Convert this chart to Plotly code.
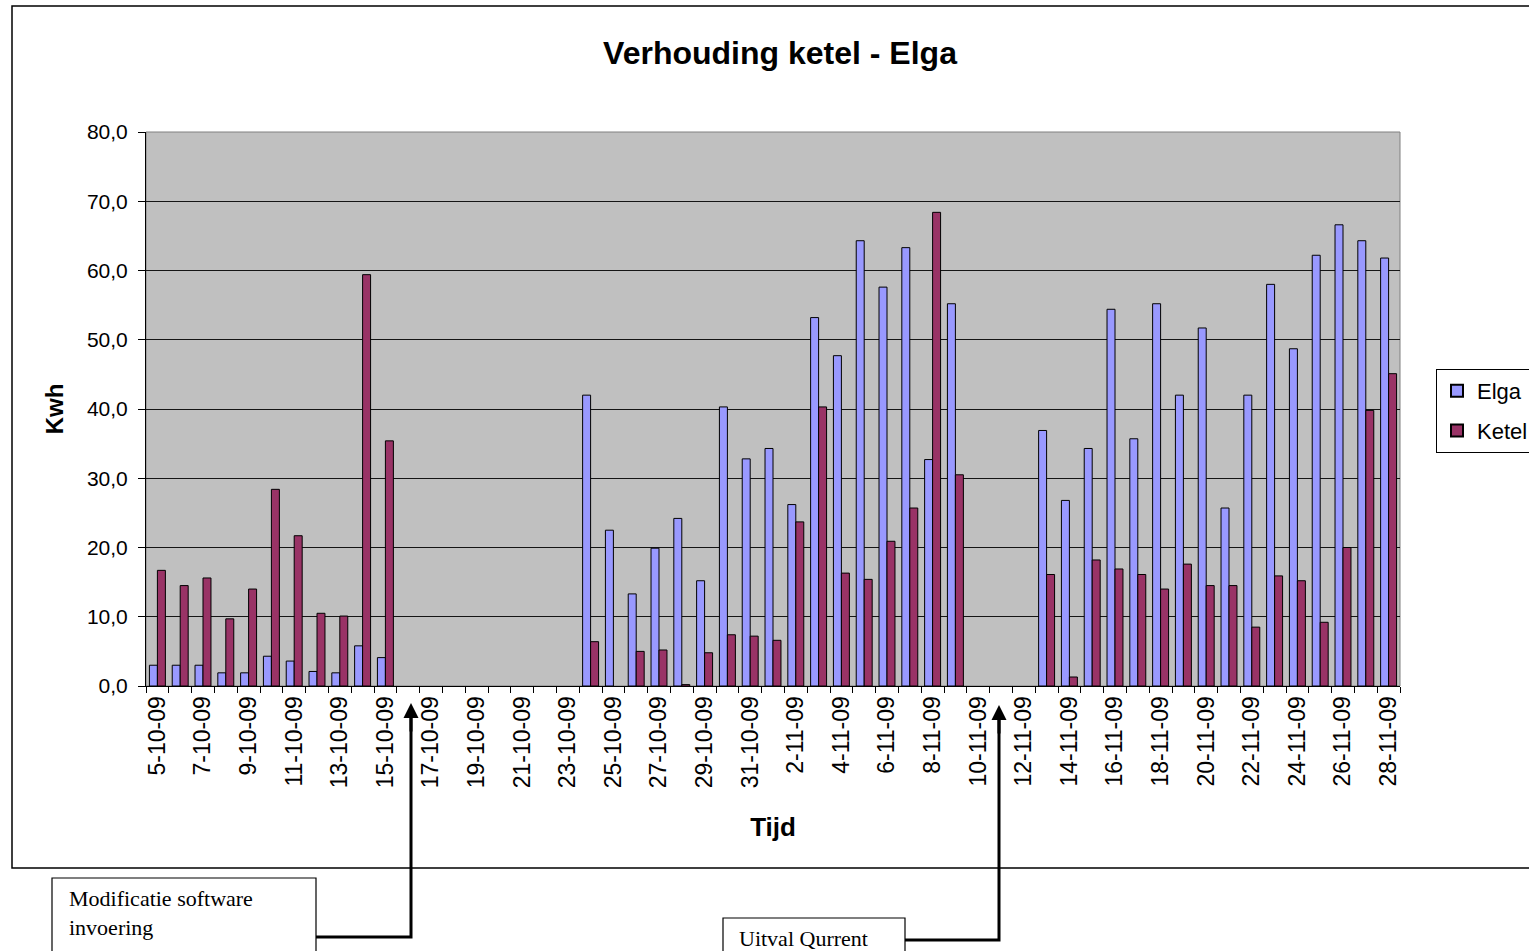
import plotly.graph_objects as go
import datetime as dt

# ---- data ----
start = dt.date(2009, 10, 5)
dates = [start + dt.timedelta(days=i) for i in range(55)]
categories = [f"{d.day}-{d.month}-{d.strftime('%y')}" for d in dates]

elga = [3.0, 3.0, 3.0, 1.9, 1.9, 4.3, 3.6, 2.1, 1.9, 5.8, 4.1,
        None, None, None, None, None, None, None, None,
        42.0, 22.5, 13.3, 19.9, 24.2, 15.2, 40.3, 32.8, 34.3, 26.2,
        53.2, 47.7, 64.3, 57.6, 63.3, 32.7, 55.2,
        None, None, None,
        36.9, 26.8, 34.3, 54.4, 35.7, 55.2, 42.0, 51.7, 25.7, 42.0,
        58.0, 48.7, 62.2, 66.6, 64.3, 61.8]
ketel = [16.7, 14.5, 15.6, 9.7, 14.0, 28.4, 21.7, 10.5, 10.1, 59.4, 35.4,
         None, None, None, None, None, None, None, None,
         6.4, None, 5.0, 5.2, 0.2, 4.8, 7.4, 7.2, 6.6, 23.7,
         40.3, 16.3, 15.4, 20.9, 25.7, 68.4, 30.5,
         None, None, None,
         16.1, 1.3, 18.2, 16.9, 16.1, 14.0, 17.6, 14.5, 14.5, 8.5,
         15.9, 15.2, 9.2, 20.0, 39.8, 45.1]
# every other date is labelled
tick_text = [c if i % 2 == 0 else "" for i, c in enumerate(categories)]
y_ticks = [0, 10, 20, 30, 40, 50, 60, 70, 80]

# ---- geometry helpers (pixel -> paper) ----
W, H = 1529, 951
L, R, T, B = 146, 1400, 132, 686
def px(x):
    return (x - L) / (R - L)
def py(y):
    return (B - y) / (B - T)

SANS = "Arial, Liberation Sans, sans-serif"
SERIF = "Liberation Serif, Times New Roman, serif"

fig = go.Figure()
fig.add_trace(go.Bar(x=categories, y=elga, name="Elga", legendgroup="a",
                     marker=dict(color="#9999FF", line=dict(color="#000000", width=1))))
fig.add_trace(go.Bar(x=categories, y=ketel, name="Ketel", legendgroup="b",
                     marker=dict(color="#993366", line=dict(color="#000000", width=1))))

fig.update_layout(
    width=W, height=H,
    margin=dict(l=L, r=W - R, t=T, b=H - B, autoexpand=False),
    paper_bgcolor="white",
    plot_bgcolor="#C0C0C0",
    separators=",.",
    barmode="group",
    bargap=0.3,
    bargroupgap=0.0,
    font=dict(family=SANS, color="#000000", size=20),
    title=dict(text="<b>Verhouding ketel - Elga</b>", x=px(780), xanchor="center",
               y=1 - 53 / H, yanchor="middle", xref="paper",
               font=dict(size=32, family=SANS)),
    legend=dict(x=px(1436), y=py(369), xanchor="left", yanchor="top",
                bordercolor="#000000", borderwidth=1, bgcolor="white",
                font=dict(size=22), tracegroupgap=8, itemsizing="constant",
                itemwidth=30),
    showlegend=True,
)

fig.update_xaxes(
    type="category",
    categoryorder="array", categoryarray=categories,
    tickmode="array", tickvals=categories, ticktext=tick_text,
    tickangle=-90,
    ticks="outside", ticklen=6, tickcolor="#000000", tickson="boundaries",
    showline=True, linecolor="#000000", linewidth=1,
    showgrid=False, zeroline=False,
    tickfont=dict(size=23),
    title=dict(text="<b>Tijd</b>", font=dict(size=26), standoff=30),
    range=[-0.5, len(categories) - 0.5],
)
fig.update_yaxes(
    range=[0, 80], tickmode="array", tickvals=y_ticks, tickformat=".1f",
    ticks="outside", ticklen=7, tickcolor="#000000",
    ticklabelstandoff=6,
    showline=True, linecolor="#000000", linewidth=1,
    showgrid=True, gridcolor="#151515", gridwidth=1.3,
    zeroline=False,
    tickfont=dict(size=21),
    title=dict(text="<b>Kwh</b>", font=dict(size=24), standoff=16),
)

shapes = []
# plot area border (gray top/right)
shapes.append(dict(type="rect", xref="paper", yref="paper", x0=0, x1=1, y0=0, y1=1,
                   line=dict(color="#808080", width=1), layer="below"))
# outer chart border
shapes.append(dict(type="rect", xref="paper", yref="paper",
                   x0=px(12), x1=px(1545), y0=py(868), y1=py(6),
                   line=dict(color="#000000", width=1.5)))
# callout boxes
shapes.append(dict(type="rect", xref="paper", yref="paper",
                   x0=px(52), x1=px(316), y0=py(965), y1=py(878),
                   line=dict(color="#000000", width=1.2), fillcolor="white"))
shapes.append(dict(type="rect", xref="paper", yref="paper",
                   x0=px(723), x1=px(905), y0=py(965), y1=py(918),
                   line=dict(color="#000000", width=1.2), fillcolor="white"))
# connector lines
shapes.append(dict(type="path", xref="paper", yref="paper",
                   path=f"M {px(316)} {py(937)} L {px(411)} {py(937)} L {px(411)} {py(712)}",
                   line=dict(color="#000000", width=3)))
shapes.append(dict(type="path", xref="paper", yref="paper",
                   path=f"M {px(905)} {py(940)} L {px(999)} {py(940)} L {px(999)} {py(714)}",
                   line=dict(color="#000000", width=3)))
fig.update_layout(shapes=shapes)

annotations = [
    dict(xref="paper", yref="paper", x=px(411), y=py(703), ax=0, ay=30,
         text="", showarrow=True, arrowhead=2, arrowsize=1, arrowwidth=3, arrowcolor="#000000"),
    dict(xref="paper", yref="paper", x=px(999), y=py(705), ax=0, ay=30,
         text="", showarrow=True, arrowhead=2, arrowsize=1, arrowwidth=3, arrowcolor="#000000"),
    dict(xref="paper", yref="paper", x=px(67), y=py(913), xanchor="left", yanchor="middle",
         text="Modificatie software<br>invoering", showarrow=False, align="left",
         font=dict(family=SERIF, size=22)),
    dict(xref="paper", yref="paper", x=px(737), y=py(938), xanchor="left", yanchor="middle",
         text="Uitval Qurrent", showarrow=False, align="left",
         font=dict(family=SERIF, size=22)),
]
fig.update_layout(annotations=annotations)

fig.write_html("out.html", config={"displayModeBar": False},
               post_script="document.body.style.margin='0px';")
